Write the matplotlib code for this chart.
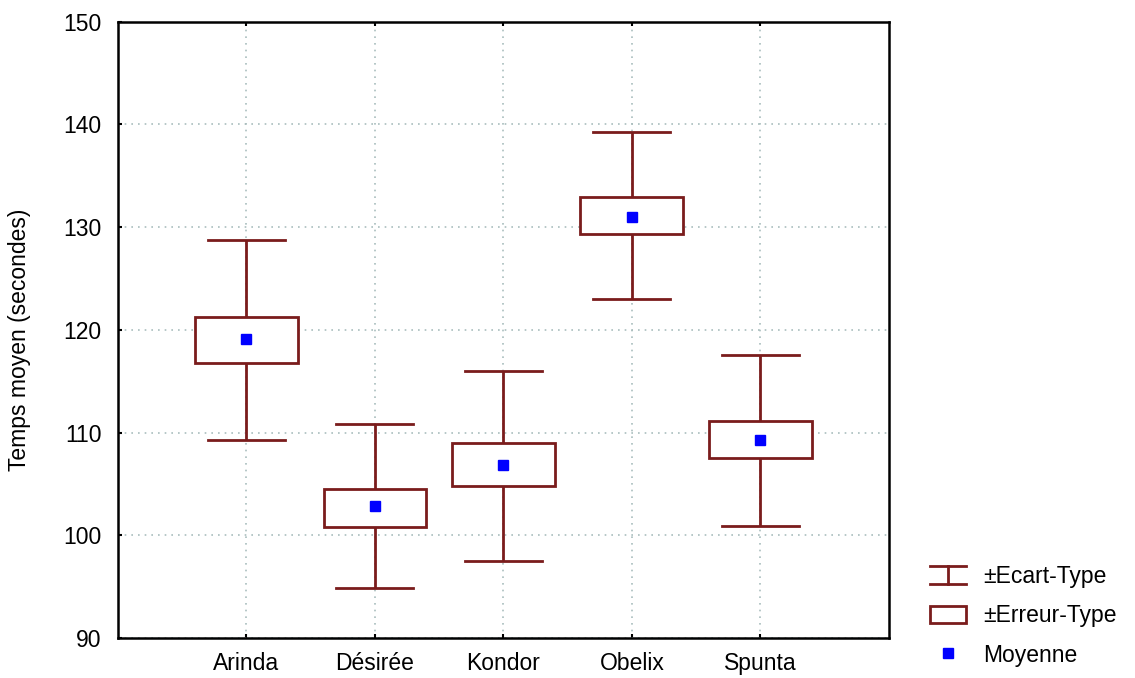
import matplotlib
matplotlib.use("Agg")
import matplotlib.pyplot as plt
from matplotlib.lines import Line2D
from matplotlib.patches import Rectangle
from matplotlib.legend_handler import HandlerBase
import numpy as np

categories = ["Arinda", "Désirée", "Kondor", "Obelix", "Spunta"]
means = [119.15, 102.86, 106.86, 131.02, 109.23]
se_low = [116.78, 100.84, 104.81, 129.30, 107.51]
se_high = [121.23, 104.55, 108.98, 132.94, 111.08]
sd_low = [109.23, 94.89, 97.49, 123.05, 100.94]
sd_high = [128.74, 110.83, 116.03, 139.22, 117.59]
yticks = [90, 100, 110, 120, 130, 140, 150]
legend_labels = ["±Ecart-Type", "±Erreur-Type", "Moyenne"]

RED = "#7a1c1c"
BLUE = "#0000ff"
FS = 16.5
plt.rcParams['font.family'] = ['Liberation Sans', 'DejaVu Sans']

fig = plt.figure(figsize=(11.35, 6.78), dpi=100)
ax = fig.add_axes([0.104, 0.059, 0.679, 0.909])

x = np.arange(1, len(categories) + 1)
box_hw = 0.4
cap_hw = 0.3
for xi, m, sl, sh, dl, dh in zip(x, means, se_low, se_high, sd_low, sd_high):
    ax.plot([xi, xi], [sh, dh], color=RED, lw=2.0, zorder=3, solid_capstyle='butt')
    ax.plot([xi, xi], [dl, sl], color=RED, lw=2.0, zorder=3, solid_capstyle='butt')
    ax.plot([xi - cap_hw, xi + cap_hw], [dh, dh], color=RED, lw=2.0, zorder=3)
    ax.plot([xi - cap_hw, xi + cap_hw], [dl, dl], color=RED, lw=2.0, zorder=3)
    ax.add_patch(Rectangle((xi - box_hw, sl), 2 * box_hw, sh - sl,
                           facecolor='white', edgecolor=RED, lw=2.0, zorder=3))
ax.plot(x, means, linestyle='none', marker='s', markersize=7, color=BLUE,
        markeredgecolor=BLUE, zorder=4)

ax.set_xlim(0, 6)
ax.set_ylim(90, 150)
ax.set_xticks(x)
ax.set_xticklabels(categories, fontsize=FS)
ax.set_yticks(yticks)
ax.set_yticklabels([str(t) for t in yticks], fontsize=FS)
ax.tick_params(axis='both', direction='in', length=3, width=1.5, top=True,
               right=False, pad=10)
ax.tick_params(axis='y', pad=12)
ax.grid(True, linestyle=(0, (1, 3)), color='#a9bdbd', lw=1.2, zorder=0)
ax.set_axisbelow(True)
for s in ax.spines.values():
    s.set_linewidth(1.8)
    s.set_color('black')
ax.set_ylabel("Temps moyen (secondes)", fontsize=FS)
ax.yaxis.set_label_coords(-0.113, 0.484)


class HandlerErr(HandlerBase):
    def create_artists(self, legend, orig, xd, yd, width, height, fontsize, trans):
        x0, x1 = -xd, -xd + width
        y0, y1 = -yd, -yd + height
        xm = (x0 + x1) / 2
        arts = [Line2D([x0, x1], [y1, y1]), Line2D([x0, x1], [y0, y0]),
                Line2D([xm, xm], [y0, y1])]
        for a in arts:
            a.set_color(RED)
            a.set_linewidth(2.0)
            a.set_transform(trans)
        return arts


err_handle = Line2D([], [], color=RED)
box_handle = Rectangle((0, 0), 1, 1, facecolor='white', edgecolor=RED, lw=2.0)
mean_handle = Line2D([], [], linestyle='none', marker='s', markersize=7, color=BLUE)
fig.legend([err_handle, box_handle, mean_handle], legend_labels,
           handler_map={err_handle: HandlerErr()},
           loc='upper left', bbox_to_anchor=(0.819, 0.167), frameon=False,
           borderpad=0, borderaxespad=0,
           fontsize=FS, handlelength=1.6, handleheight=0.8, handletextpad=0.75,
           labelspacing=0.72)

fig.savefig("out.png", dpi=100)
